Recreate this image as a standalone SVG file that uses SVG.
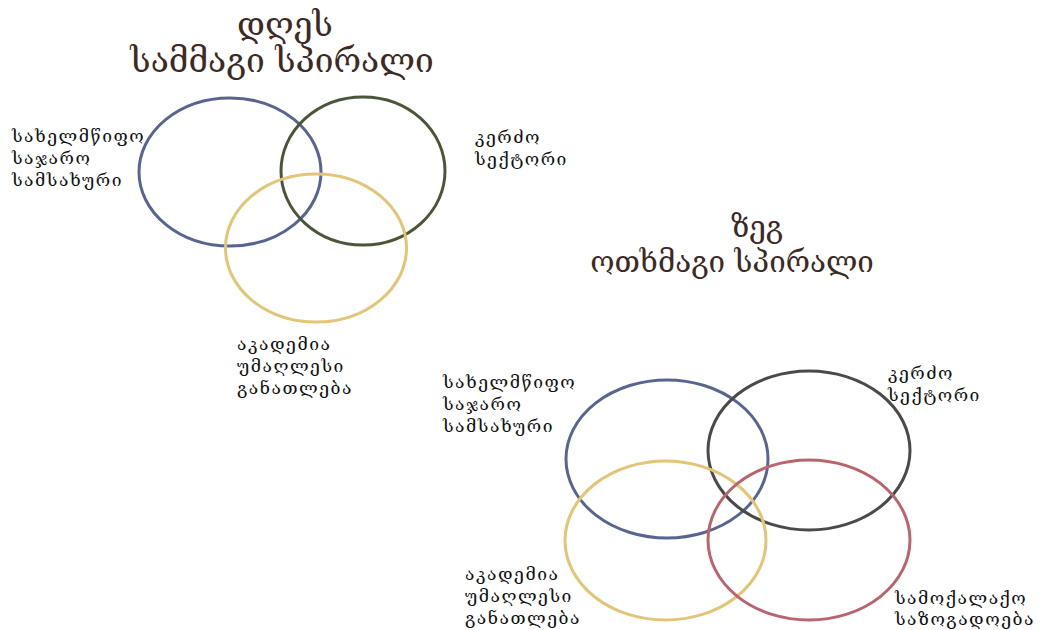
<svg xmlns="http://www.w3.org/2000/svg" width="1046" height="630" viewBox="0 0 1046 630">
<style>
.title{font-family:"DejaVu Serif","Noto Sans",serif;font-size:33.5px;fill:#3b2a26;text-anchor:middle}
.title2{font-size:29.5px}
.lbl{font-family:"DejaVu Serif","Noto Sans",serif;font-size:17.5px;letter-spacing:1.5px;fill:#111}
.ring{fill:none;stroke-width:3}
.blue{stroke:#5a6491}
.green{stroke:#4b5538}
.yellow{stroke:#e2c576}
.gray{stroke:#4a4a4a}
.red{stroke:#b9646e}
</style>
<rect width="1046" height="630" fill="#fff"/>
<g id="title-today">
<text class="title" x="285" y="36">დღეს</text>
<text class="title" x="282" y="72">სამმაგი სპირალი</text>
</g>
<g id="title-future">
<text class="title title2" x="757" y="237">ზეგ</text>
<text class="title title2" x="732" y="272">ოთხმაგი სპირალი</text>
</g>
<g id="today-state">
<ellipse class="ring blue" cx="230" cy="172" rx="91" ry="74"/>
<text class="lbl" x="12" y="142">სახელმწიფო</text>
<text class="lbl" x="12" y="164">საჯარო</text>
<text class="lbl" x="12" y="186">სამსახური</text>
</g>
<g id="today-private">
<ellipse class="ring green" cx="363" cy="171" rx="82" ry="74"/>
<text class="lbl" x="475" y="143">კერძო</text>
<text class="lbl" x="475" y="165">სექტორი</text>
</g>
<g id="today-academia">
<ellipse class="ring yellow" cx="316" cy="248" rx="90.5" ry="74"/>
<text class="lbl" x="237" y="350">აკადემია</text>
<text class="lbl" x="237" y="372">უმაღლესი</text>
<text class="lbl" x="237" y="394">განათლება</text>
</g>
<g id="future-state">
<ellipse class="ring blue" cx="667" cy="459" rx="101" ry="79"/>
<text class="lbl" x="443" y="388">სახელმწიფო</text>
<text class="lbl" x="443" y="410">საჯარო</text>
<text class="lbl" x="443" y="432">სამსახური</text>
</g>
<g id="future-private">
<ellipse class="ring gray" cx="809" cy="450.5" rx="101" ry="79.5"/>
<text class="lbl" x="888" y="379">კერძო</text>
<text class="lbl" x="888" y="401">სექტორი</text>
</g>
<g id="future-academia">
<ellipse class="ring yellow" cx="665.5" cy="540.5" rx="100.5" ry="79.5"/>
<text class="lbl" x="465" y="580">აკადემია</text>
<text class="lbl" x="465" y="602">უმაღლესი</text>
<text class="lbl" x="465" y="624">განათლება</text>
</g>
<g id="future-civil">
<ellipse class="ring red" cx="809" cy="540" rx="101" ry="80"/>
<text class="lbl" x="895" y="604">სამოქალაქო</text>
<text class="lbl" x="895" y="625">საზოგადოება</text>
</g>
<g id="connectors"></g>
</svg>
